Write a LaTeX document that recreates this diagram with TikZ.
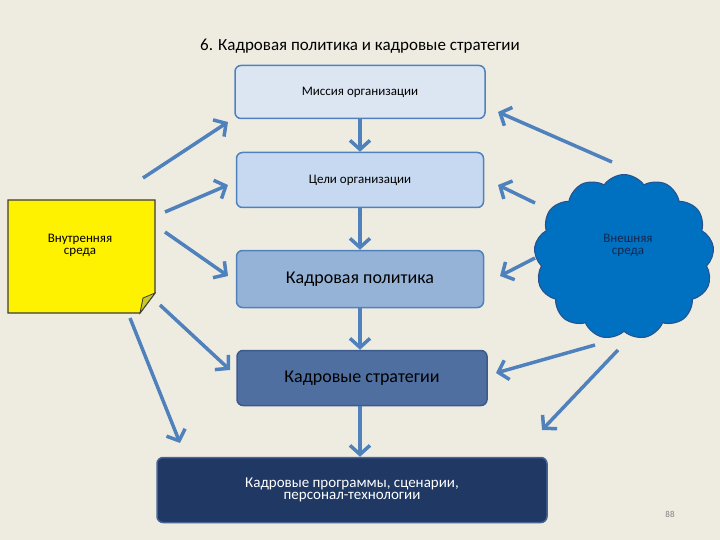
\documentclass[tikz,border=0pt]{standalone}
\usepackage{fontspec}
\setmainfont{Carlito}
\usetikzlibrary{arrows.meta,shapes.symbols}
\definecolor{bg}{HTML}{EEECE1}
\definecolor{ar}{HTML}{4F81BD}
\definecolor{bd}{HTML}{4F81BD}
\definecolor{c1}{RGB}{220,230,242}
\definecolor{c2}{RGB}{198,217,241}
\definecolor{c3}{RGB}{149,179,215}
\definecolor{c4}{RGB}{79,111,160}
\definecolor{c4d}{RGB}{60,90,140}
\definecolor{c5}{RGB}{31,56,100}
\definecolor{c5d}{RGB}{70,100,150}
\definecolor{dk}{RGB}{60,60,60}
\definecolor{fold}{RGB}{200,200,40}
\definecolor{cl}{RGB}{0,112,192}
\definecolor{cld}{RGB}{40,80,140}
\definecolor{clt}{RGB}{20,40,80}
\tikzset{
 box/.style={draw=bd,line width=1.5pt,rounded corners=6pt,align=center,text=black},
 arr/.style={draw=ar,line width=3.5pt,-{Straight Barb[length=9pt,width=20pt,line width=3.5pt]}}
}
\begin{document}
\begin{tikzpicture}[x=1pt,y=-1pt]
\fill[bg] (0,0) rectangle (720,540);
\useasboundingbox (0,0) rectangle (720,540);
\node (t) at (360,46) {\fontsize{17}{20}\selectfont 6. Кадровая политика и кадровые стратегии};
\node[box,minimum width=250pt,minimum height=53pt,fill=c1] (m) at (360,92) {\fontsize{13}{15}\selectfont Миссия организации};
\node[box,minimum width=247pt,minimum height=55pt,fill=c2] (g) at (360,180) {\fontsize{13}{15}\selectfont Цели организации};
\node[box,minimum width=247pt,minimum height=57pt,fill=c3] (p) at (360,279) {\fontsize{18}{20}\selectfont Кадровая политика};
\node[box,minimum width=250pt,minimum height=55pt,fill=c4,draw=c4d] (s) at (362,378) {\fontsize{18}{20}\selectfont Кадровые стратегии};
\node[box,minimum width=390pt,minimum height=65pt,fill=c5,draw=c5d,text=white] (r) at (352,490) {\fontsize{15}{18}\selectfont Кадровые программы, сценарии,\\ \fontsize{15}{18}\selectfont персонал-технологии};
% yellow note
\filldraw[fill=yellow,draw=dk,line width=1.2pt] (8,200) -- (155,200) -- (155,293) -- (140,313) -- (8,313) -- cycle;
\filldraw[fill=fold,draw=dk,line width=0.8pt] (155,293) -- (143,298) -- (140,313) -- cycle;
\node[align=center] (y) at (80,245) {\fontsize{13}{15}\selectfont Внутренняя\\ \fontsize{13}{15}\selectfont среда};
% cloud
\node[cloud,cloud puffs=13,cloud puff arc=110,aspect=1,minimum width=180pt,minimum height=165pt,fill=cl,draw=cld,line width=1pt] (c) at (624,257) {};
\node[align=center,text=clt] (ct) at (628,245) {\fontsize{13}{15}\selectfont Внешняя\\ \fontsize{13}{15}\selectfont среда};
\node[text=gray] (n) at (670,514) {\fontsize{9}{10}\selectfont 88};
% arrows
\coordinate (a1) at (143,178); \coordinate (a1e) at (228,122);
\coordinate (a2) at (165,212); \coordinate (a2e) at (228,185);
\coordinate (a3) at (165,232); \coordinate (a3e) at (228,276);
\coordinate (a4) at (160,305); \coordinate (a4e) at (230,370);
\coordinate (a5) at (130,318); \coordinate (a5e) at (180,443);
\coordinate (b1) at (612,162); \coordinate (b1e) at (498,112);
\coordinate (b2) at (535,203); \coordinate (b2e) at (498,185);
\coordinate (b3) at (535,258); \coordinate (b3e) at (500,276);
\coordinate (b4) at (595,345); \coordinate (b4e) at (496,373);
\coordinate (b5) at (618,350); \coordinate (b5e) at (542,430);
\foreach \u/\v in {a1/a1e,a2/a2e,a3/a3e,a4/a4e,a5/a5e,b1/b1e,b2/b2e,b3/b3e,b4/b4e,b5/b5e} \draw[arr] (\u) -- (\v);
\draw[arr] (m.south) -- (g.north);
\draw[arr] (g.south) -- (p.north);
\draw[arr] (p.south) -- (p.south |- s.north);
\draw[arr] (p.south |- s.south) -- (p.south |- r.north);
\end{tikzpicture}
\end{document}
